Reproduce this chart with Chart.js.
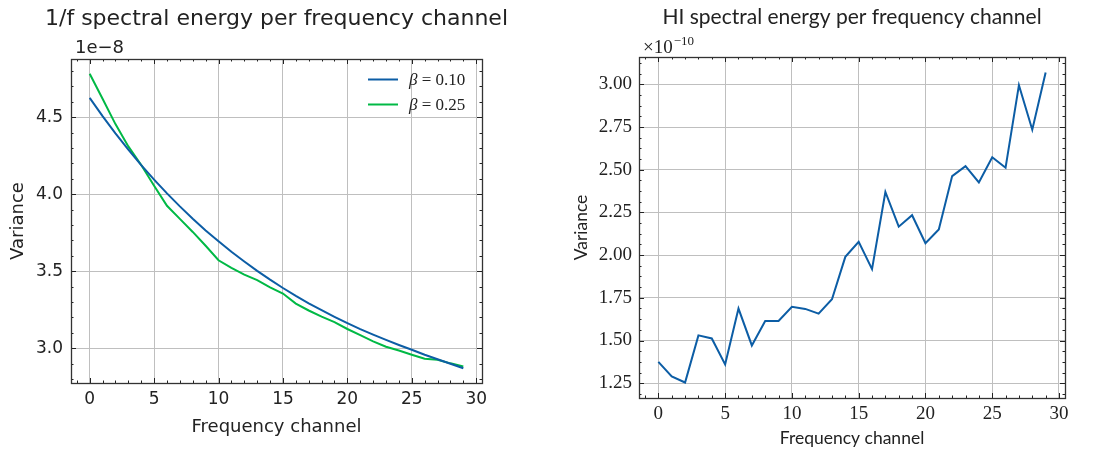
<!DOCTYPE html>
<html>
<head>
<meta charset="utf-8">
<script src="https://cdn.jsdelivr.net/npm/chart.js@4.4.0/dist/chart.umd.min.js"></script>
<style>
  body { margin: 0; background: #fff; width: 1110px; height: 456px; overflow: hidden; }
  .panel { position: absolute; top: 0; width: 555px; height: 456px; }
</style>
</head>
<body>
<div class="panel" style="left:0"><canvas id="noiseChart"></canvas></div>
<div class="panel" style="left:555px"><canvas id="hiChart"></canvas></div>
<script>
// frequency channel index
const channels = [0, 1, 2, 3, 4, 5, 6, 7, 8, 9, 10, 11, 12, 13, 14, 15, 16, 17, 18, 19,
                  20, 21, 22, 23, 24, 25, 26, 27, 28, 29];

// 1/f noise variance, units of 1e-8
const beta010 = [4.625, 4.507, 4.395, 4.289, 4.189, 4.095, 4.005, 3.921, 3.841, 3.765,
                 3.694, 3.626, 3.563, 3.502, 3.445, 3.391, 3.340, 3.292, 3.247, 3.204,
                 3.163, 3.124, 3.088, 3.054, 3.021, 2.990, 2.958, 2.929, 2.899, 2.870];
const beta025 = [4.782, 4.620, 4.455, 4.310, 4.190, 4.055, 3.925, 3.840, 3.755, 3.665,
                 3.571, 3.522, 3.478, 3.442, 3.395, 3.355, 3.290, 3.245, 3.205, 3.170,
                 3.125, 3.085, 3.045, 3.010, 2.985, 2.958, 2.932, 2.925, 2.902, 2.882];

// HI signal variance, units of 1e-10
const hiVariance = [1.375, 1.289, 1.254, 1.530, 1.512, 1.360, 1.687, 1.471, 1.614, 1.614,
                    1.698, 1.685, 1.657, 1.742, 1.990, 2.078, 1.918, 2.370, 2.167, 2.234,
                    2.070, 2.150, 2.463, 2.521, 2.426, 2.574, 2.512, 2.996, 2.735, 3.070];

const BLUE = '#0C5DA5';
const GREEN = '#00B945';
const INK = '#222';
const GRID = '#bfbfbf';

// matplotlib-style autoscale: data range plus 5% on each side
function padded(values) {
  const lo = Math.min(...values), hi = Math.max(...values);
  const m = (hi - lo) * 0.05;
  return { min: lo - m, max: hi + m };
}

function points(ys) {
  return channels.map((c, i) => ({ x: c, y: ys[i] }));
}

function stepValues(scale, step) {
  const out = [];
  for (let k = Math.ceil(scale.min / step - 1e-9); k * step <= scale.max + 1e-9; k++) out.push(k * step);
  return out;
}

// box, inward ticks on every side, title, offset text and legend
const axesFrame = {
  id: 'axesFrame',
  afterDraw(chart, args, o) {
    const { ctx, chartArea: a, scales: { x, y } } = chart;
    ctx.save();
    ctx.strokeStyle = INK;
    ctx.lineWidth = 1;
    const ticks = (scale, values, len) => {
      ctx.beginPath();
      values.forEach(v => {
        const p = Math.round(scale.getPixelForValue(v)) + 0.5;
        if (scale.isHorizontal()) {
          ctx.moveTo(p, a.bottom); ctx.lineTo(p, a.bottom - len);
          ctx.moveTo(p, a.top); ctx.lineTo(p, a.top + len);
        } else {
          ctx.moveTo(a.left, p); ctx.lineTo(a.left + len, p);
          ctx.moveTo(a.right, p); ctx.lineTo(a.right - len, p);
        }
      });
      ctx.stroke();
    };
    ticks(x, stepValues(x, o.xMinor), 2.5);
    ticks(y, stepValues(y, o.yMinor), 2.5);
    ticks(x, x.ticks.map(t => t.value), 5);
    ticks(y, y.ticks.map(t => t.value), 5);

    ctx.lineWidth = 1.3;
    ctx.strokeStyle = '#333';
    ctx.strokeRect(Math.round(a.left) + 0.5, Math.round(a.top) + 0.5,
                   Math.round(a.width), Math.round(a.height));

    ctx.fillStyle = INK;
    ctx.textBaseline = 'alphabetic';
    ctx.textAlign = 'center';
    ctx.font = o.titleFont;
    ctx.fillText(o.title, (a.left + a.right) / 2, o.titleY);

    ctx.textAlign = 'left';
    ctx.font = o.offsetFont;
    ctx.fillText(o.offsetText, a.left + 4, a.top - o.offsetLift);
    if (o.offsetExp) {
      const w = ctx.measureText(o.offsetText).width;
      ctx.font = o.offsetExpFont;
      ctx.fillText(o.offsetExp, a.left + 4 + w + 1, a.top - o.offsetLift - 8);
    }

    if (o.legend) {
      chart.data.datasets.forEach((ds, i) => {
        const ly = a.top + 20.5 + i * 25;
        ctx.strokeStyle = ds.borderColor;
        ctx.lineWidth = ds.borderWidth;
        ctx.beginPath();
        ctx.moveTo(a.right - 114, ly); ctx.lineTo(a.right - 84, ly);
        ctx.stroke();
        ctx.fillStyle = INK;
        ctx.textBaseline = 'middle';
        ctx.font = 'italic 17px "Liberation Serif"';
        const sym = ds.label[0];
        ctx.fillText(sym, a.right - 73, ly + 1);
        const sw = ctx.measureText(sym).width;
        ctx.font = '17px "Liberation Serif"';
        ctx.fillText(ds.label.slice(1), a.right - 73 + sw, ly + 1);
      });
    }
    ctx.restore();
  }
};

function baseScales(cfg) {
  return {
    x: {
      type: 'linear', ...padded(channels),
      afterFit: s => { s.height = cfg.xHeight; },
      ticks: { stepSize: 5, includeBounds: false, padding: cfg.xPad, maxRotation: 0,
               color: INK, font: cfg.tickFont },
      grid: { color: GRID, lineWidth: 1, drawTicks: false },
      border: { display: false },
      title: { display: true, text: 'Frequency channel', color: INK, font: cfg.labelFont,
               padding: { top: 0, bottom: cfg.xTitleBottom } }
    },
    y: {
      type: 'linear', ...cfg.yRange,
      afterFit: s => { s.width = cfg.yWidth; },
      ticks: { stepSize: cfg.yStep, includeBounds: false, padding: cfg.yPad,
               color: INK, font: cfg.tickFont, callback: v => v.toFixed(cfg.digits) },
      grid: { color: GRID, lineWidth: 1, drawTicks: false },
      border: { display: false },
      title: { display: true, text: 'Variance', color: INK, font: cfg.labelFont,
               padding: { top: cfg.yTitleTop, bottom: 0 } }
    }
  };
}

new Chart(document.getElementById('noiseChart'), {
  type: 'line',
  data: {
    datasets: [
      { label: 'β = 0.10', data: points(beta010), borderColor: BLUE, borderWidth: 2,
        pointRadius: 0, tension: 0, fill: false },
      { label: 'β = 0.25', data: points(beta025), borderColor: GREEN, borderWidth: 2,
        pointRadius: 0, tension: 0, fill: false }
    ]
  },
  options: {
    responsive: true, maintainAspectRatio: false, animation: false,
    layout: { padding: { top: 59, right: 73, left: 0, bottom: 0 } },
    plugins: {
      legend: { display: false }, tooltip: { enabled: false },
      axesFrame: {
        title: '1/f spectral energy per frequency channel', titleY: 25,
        titleFont: '22px "DejaVu Sans"',
        offsetText: '1e\u22128', offsetFont: '18px "DejaVu Sans"', offsetLift: 6,
        xMinor: 1, yMinor: 0.1, legend: true
      }
    },
    scales: baseScales({
      xHeight: 73, xPad: 6, xTitleBottom: 18, yWidth: 71, yPad: 8, yTitleTop: 8,
      yRange: padded(beta010.concat(beta025)), yStep: 0.5, digits: 1,
      tickFont: { family: 'DejaVu Sans', size: 17 },
      labelFont: { family: 'DejaVu Sans', size: 18 }
    })
  },
  plugins: [axesFrame]
});

new Chart(document.getElementById('hiChart'), {
  type: 'line',
  data: {
    datasets: [
      { label: 'HI', data: points(hiVariance), borderColor: BLUE, borderWidth: 2,
        pointRadius: 0, tension: 0, fill: false }
    ]
  },
  options: {
    responsive: true, maintainAspectRatio: false, animation: false,
    layout: { padding: { top: 57, right: 45, left: 0, bottom: 0 } },
    plugins: {
      legend: { display: false }, tooltip: { enabled: false },
      axesFrame: {
        title: 'HI spectral energy per frequency channel', titleY: 24,
        titleFont: '21px Lato',
        offsetText: '\u00d710', offsetFont: '19px "Liberation Serif"', offsetLift: 4,
        offsetExp: '\u221210', offsetExpFont: '13px "Liberation Serif"',
        xMinor: 1, yMinor: 0.0625, legend: false
      }
    },
    scales: baseScales({
      xHeight: 58, xPad: 5, xTitleBottom: 7, yWidth: 84, yPad: 7, yTitleTop: 16,
      yRange: padded(hiVariance), yStep: 0.25, digits: 2,
      tickFont: { family: 'Liberation Serif', size: 19 },
      labelFont: { family: 'Lato', size: 17.5 }
    })
  },
  plugins: [axesFrame]
});
</script>
</body>
</html>
